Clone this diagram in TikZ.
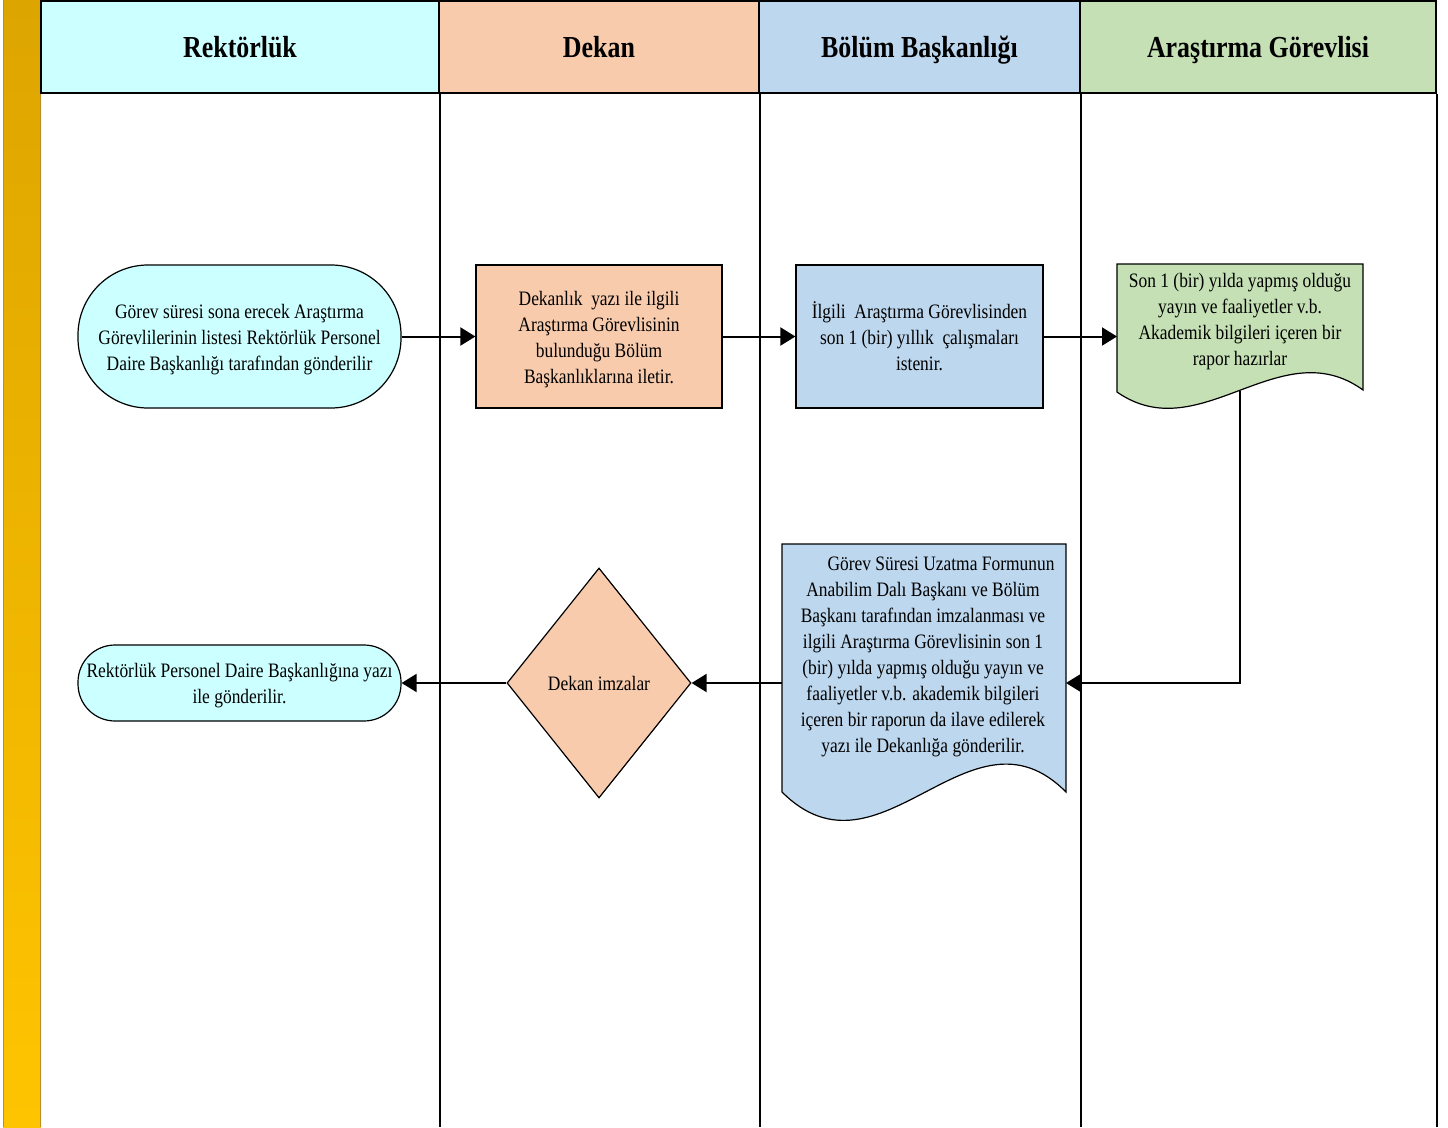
\documentclass[tikz,border=0pt]{standalone}
\usepackage{fontspec}
\setmainfont[FakeStretch=0.85]{Liberation Serif}
\usetikzlibrary{arrows.meta,shapes.geometric,backgrounds}
\definecolor{cyanf}{HTML}{CCFFFF}
\definecolor{peach}{HTML}{F8CBAD}
\definecolor{blu}{HTML}{BDD7EE}
\definecolor{grn}{HTML}{C5E0B4}
\definecolor{goldtop}{HTML}{DDA500}
\definecolor{goldbot}{HTML}{FFC400}
\definecolor{goldedge}{HTML}{B8902A}
\tikzset{
  hdr/.style={draw=black, line width=1.4pt, inner sep=0pt, text height=21pt, text depth=0pt, font=\fontsize{30.5}{36}\selectfont\bfseries},
  lane/.style={draw=black, line width=1.6pt},
  body/.style={font=\fontsize{20.5}{26}\selectfont, align=center, inner sep=0pt},
  procbox/.style={body, draw=black, line width=1.2pt},
  termbox/.style={body, draw=black, line width=1.2pt, fill=cyanf},
  docline/.style={draw=black, line width=1.2pt},
  arr/.style={draw=black, line width=2pt, -{Triangle[length=15pt,width=18pt]}}
}
\begin{document}
\begin{tikzpicture}[x=1pt,y=-1pt]
\useasboundingbox (0,0) rectangle (1448,1127);
% left bar
\shade[top color=goldtop,bottom color=goldbot] (3,0) rectangle (41,1127);
\draw[goldedge, line width=1pt] (3.5,0) -- (3.5,1127);
\draw[goldedge, line width=1.5pt] (40.5,0) -- (40.5,1127);
% headers
\node[hdr, fill=cyanf, minimum width=398, minimum height=92] (h1) at (240,47) {Rektörlük};
\node[hdr, fill=peach, minimum width=320, minimum height=92] (h2) at (599,47) {Dekan};
\node[hdr, fill=blu,   minimum width=321, minimum height=92] (h3) at (919.5,47) {Bölüm Başkanlığı};
\node[hdr, fill=grn,   minimum width=356, minimum height=92] (h4) at (1258,47) {Araştırma Görevlisi};
% lane lines
\draw[lane] (h1.south east) -- (h1.south east |- 0,1127);
\draw[lane] (h2.south east) -- (h2.south east |- 0,1127);
\draw[lane] (h3.south east) -- (h3.south east |- 0,1127);
\draw[lane] (h4.south east) -- (h4.south east |- 0,1127);
% nodes
\node[termbox, minimum width=323, minimum height=143, rounded corners=70,
  label={[body,yshift=-3pt]center:{Görev süresi sona erecek Araştırma\\Görevlilerinin listesi Rektörlük Personel\\Daire Başkanlığı tarafından gönderilir}}] (t1) at (239.5,336.5) {};
\node[procbox, fill=peach, minimum width=246, minimum height=143,
  label={[body,yshift=-3pt]center:{Dekanlık~ yazı ile ilgili\\Araştırma Görevlisinin\\bulunduğu Bölüm\\Başkanlıklarına iletir.}}] (dek) at (599,336.5) {};
\node[procbox, fill=blu, minimum width=247, minimum height=143] (bol) at (919.5,336.5)
  {İlgili~ Araştırma Görevlisinden\\son 1 (bir) yıllık~ çalışmaları\\istenir.};
% green document
\coordinate (gNW) at (1117,264);
\coordinate (gNE) at (1363,264);
\coordinate (gbot) at (1240,391);
\path[docline, fill=grn] (gNW) -- (gNE) -- (1363,390) .. controls (1280,330) and (1200,450) .. (1117,392) -- cycle;
\node[body] (gtx) at (1240,322)
  {Son 1 (bir) yılda yapmış olduğu\\yayın ve faaliyetler v.b.\\Akademik bilgileri içeren bir\\rapor hazırlar};
% blue document
\coordinate (bNW) at (782,544);
\coordinate (bNE) at (1066,544);
\path[docline, fill=blu] (bNW) -- (bNE) -- (1066,792) .. controls (970,695) and (880,890) .. (782,792) -- cycle;
\node[body] (btx) at (923,657)
  {\hspace*{36pt}Görev Süresi Uzatma Formunun\\Anabilim Dalı Başkanı ve Bölüm\\Başkanı tarafından imzalanması ve\\ilgili Araştırma Görevlisinin son 1\\(bir) yılda yapmış olduğu yayın ve\\faaliyetler v.b. akademik bilgileri\\içeren bir raporun da ilave edilerek\\yazı ile Dekanlığa gönderilir.};
\node[procbox, shape=diamond, fill=peach, minimum width=184, minimum height=230] (dia) at (599,683) {Dekan imzalar};
\node[termbox, minimum width=323, minimum height=76, rounded corners=37,
  label={[body,yshift=-3pt]center:{Rektörlük Personel Daire Başkanlığına yazı\\ile gönderilir.}}] (t2) at (239.5,683) {};
% connectors
\draw[arr] (t1.east) -- (dek.west);
\draw[arr] (dek.east) -- (bol.west);
\draw[arr] (bol.east) -- (bol.east -| gNW);
\draw[arr] (gbot) |- (dia.east -| bNE);
\draw[arr] (dia.east -| bNW) -- (dia.east);
\draw[arr] (dia.west) -- (t2.east);
\end{tikzpicture}
\end{document}
